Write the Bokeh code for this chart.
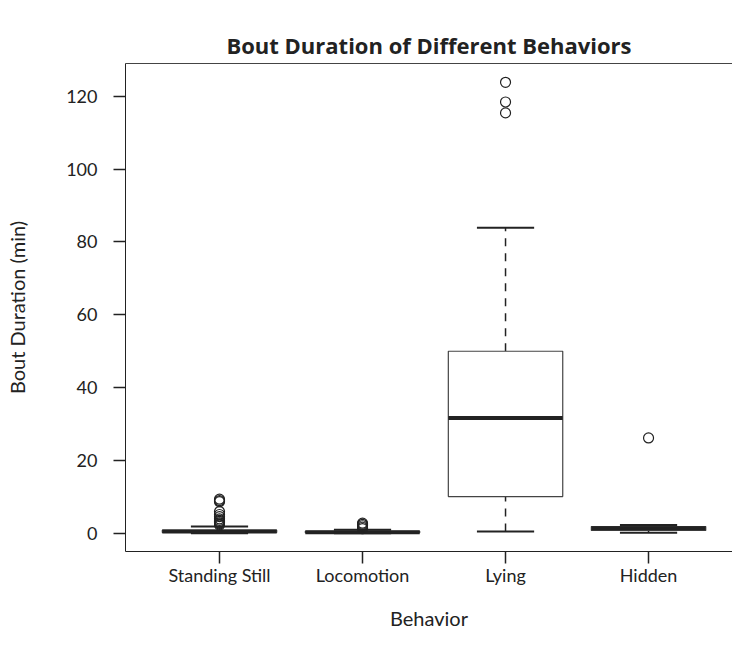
from bokeh.plotting import figure
from bokeh.models import Range1d, FixedTicker, LinearAxis, ColumnDataSource
from bokeh.embed import file_html
from bokeh.resources import INLINE

# ---- data ----
categories = ["Standing Still", "Locomotion", "Lying", "Hidden"]
lower_whisker = [0.05, 0.05, 0.5, 0.2]
q1 = [0.25, 0.2, 10.1, 0.8]
median = [0.5, 0.35, 31.7, 1.4]
q3 = [0.9, 0.6, 50.0, 1.9]
upper_whisker = [1.9, 1.0, 83.9, 2.3]
outliers = {
    "Standing Still": [9.4, 9.0, 8.7, 6.0, 5.2, 4.6, 4.0, 3.6, 3.2, 2.9, 2.6, 2.3],
    "Locomotion": [1.3, 1.7, 2.1, 2.5, 2.8],
    "Lying": [123.8, 118.4, 115.4],
    "Hidden": [26.2],
}
y_ticks = [0, 20, 40, 60, 80, 100, 120]

FONT = "Lato"
INK = "#222222"

pos = [i + 1 for i in range(len(categories))]
box_w = 0.8
cap_w = 0.4

p = figure(width=732, height=651, output_backend="svg", toolbar_location=None,
           x_range=Range1d(0.3427, 4.587), y_range=Range1d(-4.96, 128.96),
           min_border_left=125, min_border_right=0, min_border_top=63,
           min_border_bottom=100, x_axis_type=None, y_axis_type=None)
p.grid.visible = False
p.outline_line_color = None
p.background_fill_color = "white"
p.border_fill_color = "white"

# title
p.title.text = "Bout Duration of Different Behaviors"
p.title.text_font = "Open Sans"
p.title.text_font_style = "bold"
p.title.text_font_size = "22px"
p.title.text_color = INK
p.title.align = "center"
p.title.offset = 9
p.title.standoff = 8

# axes
xaxis = LinearAxis(ticker=FixedTicker(ticks=pos),
                   major_label_overrides={pp: c for pp, c in zip(pos, categories)})
xaxis.axis_label = "Behavior"
yaxis = LinearAxis(ticker=FixedTicker(ticks=y_ticks))
yaxis.axis_label = "Bout Duration (min)"
for ax in (xaxis, yaxis):
    ax.axis_line_color = INK
    ax.axis_line_width = 1
    ax.major_tick_line_color = INK
    ax.major_tick_line_width = 1.5
    ax.major_tick_out = 12
    ax.major_tick_in = 0
    ax.minor_tick_line_color = None
    ax.major_label_text_font = FONT
    ax.major_label_text_font_size = "18px"
    ax.major_label_text_color = INK
    ax.axis_label_text_font = FONT
    ax.axis_label_text_font_size = "20px"
    ax.axis_label_text_font_style = "normal"
    ax.axis_label_text_color = INK
yaxis.major_label_orientation = "horizontal"
yaxis.major_label_standoff = 16
yaxis.axis_label_standoff = 34
xaxis.major_label_standoff = 0
xaxis.axis_label_standoff = 17
p.add_layout(xaxis, "below")
p.add_layout(yaxis, "left")

top_axis = LinearAxis(ticker=FixedTicker(ticks=[]), major_label_text_font_size="0px",
                      axis_line_color="#444444", axis_line_width=1,
                      major_tick_line_color=None, minor_tick_line_color=None)
p.add_layout(top_axis, "above")

src = ColumnDataSource(dict(x=pos, lo=lower_whisker, q1=q1, med=median, q3=q3, hi=upper_whisker,
                            x0=[x - box_w / 2 for x in pos], x1=[x + box_w / 2 for x in pos],
                            c0=[x - cap_w / 2 for x in pos], c1=[x + cap_w / 2 for x in pos]))

# whiskers (dashed)
p.segment(x0="x", y0="q3", x1="x", y1="hi", source=src, line_color=INK, line_width=1.5,
          line_dash="8 7")
p.segment(x0="x", y0="lo", x1="x", y1="q1", source=src, line_color=INK, line_width=1.5,
          line_dash="8 7")
# caps
p.segment(x0="c0", y0="hi", x1="c1", y1="hi", source=src, line_color=INK, line_width=2)
p.segment(x0="c0", y0="lo", x1="c1", y1="lo", source=src, line_color=INK, line_width=2)
# boxes
p.quad(left="x0", right="x1", bottom="q1", top="q3", source=src, fill_color="white",
       line_color="#444444", line_width=1.2)
# medians
p.segment(x0="x0", y0="med", x1="x1", y1="med", source=src, line_color=INK, line_width=4)

# outliers
ox, oy = [], []
for c, pp in zip(categories, pos):
    for v in outliers[c]:
        ox.append(pp)
        oy.append(v)
p.scatter(ox, oy, marker="circle", size=10, fill_color=None, line_color=INK, line_width=1.2)

open("out.html", "w").write(file_html(p, INLINE))
